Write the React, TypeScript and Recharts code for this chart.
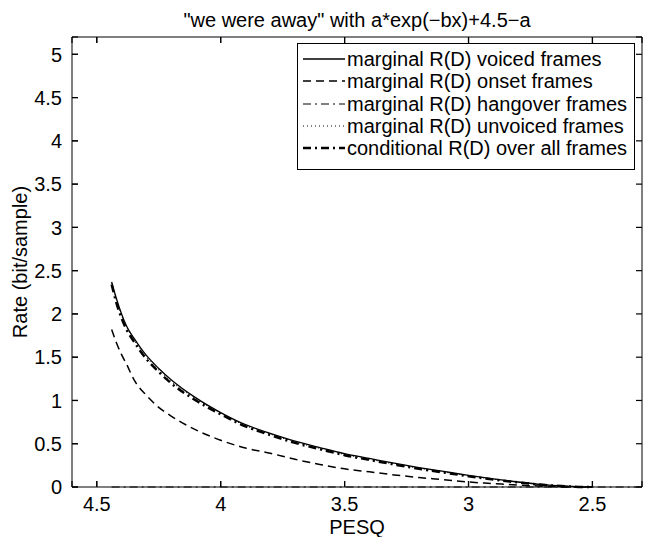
import React from 'react'
import { LineChart, Line, XAxis, YAxis, Legend, Label, CartesianGrid } from 'recharts'

// PESQ sample points (x axis runs from high to low)
const pesq = [4.44, 4.42, 4.4, 4.38, 4.35, 4.3, 4.25, 4.2, 4.1, 4.0, 3.9, 3.8, 3.7, 3.6, 3.5, 3.4, 3.3, 3.2, 3.1, 3.0, 2.9, 2.8, 2.7, 2.6, 2.53, 2.5, 2.4, 2.3]

// rate in bit/sample
const voiced = [2.37, 2.17, 2.0, 1.86, 1.72, 1.52, 1.37, 1.24, 1.03, 0.86, 0.72, 0.62, 0.53, 0.455, 0.385, 0.33, 0.275, 0.225, 0.18, 0.135, 0.095, 0.058, 0.028, 0.01, 0, 0, null, null]
const onset = [1.82, 1.66, 1.53, 1.42, 1.24, 1.06, 0.92, 0.82, 0.66, 0.54, 0.45, 0.39, 0.32, 0.26, 0.21, 0.175, 0.14, 0.11, 0.085, 0.058, 0.04, 0.022, 0.01, 0, 0, 0, null, null]
const hangover = [0, 0, 0, 0, 0, 0, 0, 0, 0, 0, 0, 0, 0, 0, 0, 0, 0, 0, 0, 0, 0, 0, 0, 0, 0, 0, 0, 0]
const unvoiced = [2.36, 2.15, 1.98, 1.85, 1.7, 1.5, 1.35, 1.22, 1.02, 0.85, 0.71, 0.61, 0.52, 0.445, 0.375, 0.32, 0.265, 0.215, 0.172, 0.13, 0.09, 0.055, 0.026, 0.008, 0, 0, null, null]
const conditional = [2.34, 2.12, 1.95, 1.82, 1.68, 1.48, 1.33, 1.2, 1.0, 0.84, 0.7, 0.6, 0.51, 0.437, 0.368, 0.313, 0.26, 0.21, 0.167, 0.125, 0.087, 0.053, 0.025, 0.008, 0, 0, null, null]

const xTicks = [4.5, 4, 3.5, 3, 2.5]
const yTicks = [0, 0.5, 1, 1.5, 2, 2.5, 3, 3.5, 4, 4.5, 5]

const data = pesq.map((p, i) => ({
    pesq: p,
    voiced: voiced[i],
    onset: onset[i],
    hangover: hangover[i],
    unvoiced: unvoiced[i],
    conditional: conditional[i],
}))

const series = [
    { key: 'voiced', name: 'marginal R(D) voiced frames', dash: undefined, width: 1.3 },
    { key: 'onset', name: 'marginal R(D) onset frames', dash: '8 5', width: 1.5 },
    { key: 'hangover', name: 'marginal R(D) hangover frames', dash: '8 4 2 4', width: 1 },
    { key: 'unvoiced', name: 'marginal R(D) unvoiced frames', dash: '1 3', width: 1 },
    { key: 'conditional', name: 'conditional R(D) over all frames', dash: '8 4 2 4', width: 2.5 },
]

const FONT = '"Liberation Sans", Arial, sans-serif'
const FS = 20
const TICK_LEN = 6
const MARGIN = 10

// MATLAB style ticks: short stubs pointing into the plot on every side
function BottomTick(props: any) {
    const { x, y, payload } = props
    return (
        <g>
            <line x1={x} x2={x} y1={y - MARGIN} y2={y - MARGIN - TICK_LEN} stroke="#000" strokeWidth={1.2} />
            <text x={x} y={y} dy="0.71em" textAnchor="middle" fill="#000" fontSize={FS} fontFamily={FONT}>{payload.value}</text>
        </g>
    )
}

function TopTick(props: any) {
    const { x, y } = props
    return <line x1={x} x2={x} y1={y + MARGIN} y2={y + MARGIN + TICK_LEN} stroke="#000" strokeWidth={1.2} />
}

function LeftTick(props: any) {
    const { x, y, payload } = props
    return (
        <g>
            <line x1={x + MARGIN} x2={x + MARGIN + TICK_LEN} y1={y} y2={y} stroke="#000" strokeWidth={1.2} />
            <text x={x} y={y} dy="0.36em" textAnchor="end" fill="#000" fontSize={FS} fontFamily={FONT}>{payload.value}</text>
        </g>
    )
}

function RightTick(props: any) {
    const { x, y } = props
    return <line x1={x - MARGIN} x2={x - MARGIN - TICK_LEN} y1={y} y2={y} stroke="#000" strokeWidth={1.2} />
}

// grid lines reduced to stubs at both ends of each tick position
function HStub(props: any) {
    const { x1, x2, y1, index } = props
    return (
        <g key={`h-${index}`}>
            <line x1={x1} x2={x1 + TICK_LEN} y1={y1} y2={y1} stroke="#000" strokeWidth={1.2} />
            <line x1={x2} x2={x2 - TICK_LEN} y1={y1} y2={y1} stroke="#000" strokeWidth={1.2} />
        </g>
    )
}

function VStub(props: any) {
    const { x1, y1, y2, index } = props
    return (
        <g key={`v-${index}`}>
            <line x1={x1} x2={x1} y1={y1} y2={y1 + TICK_LEN} stroke="#000" strokeWidth={1.2} />
            <line x1={x1} x2={x1} y1={y2} y2={y2 - TICK_LEN} stroke="#000" strokeWidth={1.2} />
        </g>
    )
}

function BoxLegend() {
    return (
        <div style={{ border: '1px solid #000', background: '#fff', width: 338, height: 127, boxSizing: 'border-box', paddingTop: 4, fontFamily: FONT }}>
            {series.map(s => (
                <div key={s.key} style={{ display: 'flex', alignItems: 'center', height: 22.3 }}>
                    <svg width={49} height={10} style={{ flex: 'none' }}>
                        <line x1={5} x2={47} y1={5} y2={5} stroke="#000" strokeWidth={s.width} strokeDasharray={s.dash} />
                    </svg>
                    <span style={{ fontSize: FS, lineHeight: '22px', color: '#000', whiteSpace: 'nowrap' }}>{s.name}</span>
                </div>
            ))}
        </div>
    )
}

export default function App() {
    const labelStyle = { fill: '#000', fontSize: FS, fontFamily: FONT }
    return (
        <div style={{ position: 'absolute', left: 0, top: 0, background: '#fff' }}>
            <LineChart width={651} height={537} data={data} margin={{ top: 32, right: 4, bottom: 3, left: 12 }} style={{ fontFamily: FONT }}>
                <CartesianGrid horizontal={HStub} vertical={VStub} />
                <XAxis
                    dataKey="pesq"
                    type="number"
                    domain={[2.3, 4.6]}
                    reversed
                    ticks={xTicks}
                    height={47}
                    stroke="#000"
                    tickLine={false}
                    tickSize={0}
                    tickMargin={MARGIN}
                    tick={<BottomTick />}
                >
                    <Label value="PESQ" position="insideBottom" offset={0} style={labelStyle} />
                </XAxis>
                <XAxis
                    xAxisId="top"
                    orientation="top"
                    dataKey="pesq"
                    type="number"
                    domain={[2.3, 4.6]}
                    reversed
                    ticks={xTicks}
                    height={5}
                    stroke="#000"
                    tickLine={false}
                    tickSize={0}
                    tickMargin={MARGIN}
                    tick={<TopTick />}
                >
                    <Label value={'"we were away" with a*exp(\u2212bx)+4.5\u2212a'} position="top" offset={5} style={labelStyle} />
                </XAxis>
                <YAxis
                    type="number"
                    domain={[0, 5.2]}
                    ticks={yTicks}
                    width={60}
                    stroke="#000"
                    tickLine={false}
                    tickSize={0}
                    tickMargin={MARGIN}
                    tick={<LeftTick />}
                >
                    <Label value="Rate (bit/sample)" position="insideLeft" angle={-90} offset={8} style={{ ...labelStyle, textAnchor: 'middle' }} />
                </YAxis>
                <YAxis
                    yAxisId="right"
                    orientation="right"
                    type="number"
                    domain={[0, 5.2]}
                    ticks={yTicks}
                    width={5}
                    stroke="#000"
                    tickLine={false}
                    tickSize={0}
                    tickMargin={MARGIN}
                    tick={<RightTick />}
                />
                <Legend
                    content={<BoxLegend />}
                    layout="vertical"
                    align="center"
                    verticalAlign="middle"
                    wrapperStyle={{ position: 'absolute', left: 297, top: 43, width: 338, height: 127 }}
                />
                {series.map(s => (
                    <Line
                        key={s.key}
                        dataKey={s.key}
                        name={s.name}
                        type="monotone"
                        stroke="#000"
                        strokeWidth={s.width}
                        strokeDasharray={s.dash}
                        dot={false}
                        activeDot={false}
                        isAnimationActive={false}
                    />
                ))}
            </LineChart>
        </div>
    )
}
